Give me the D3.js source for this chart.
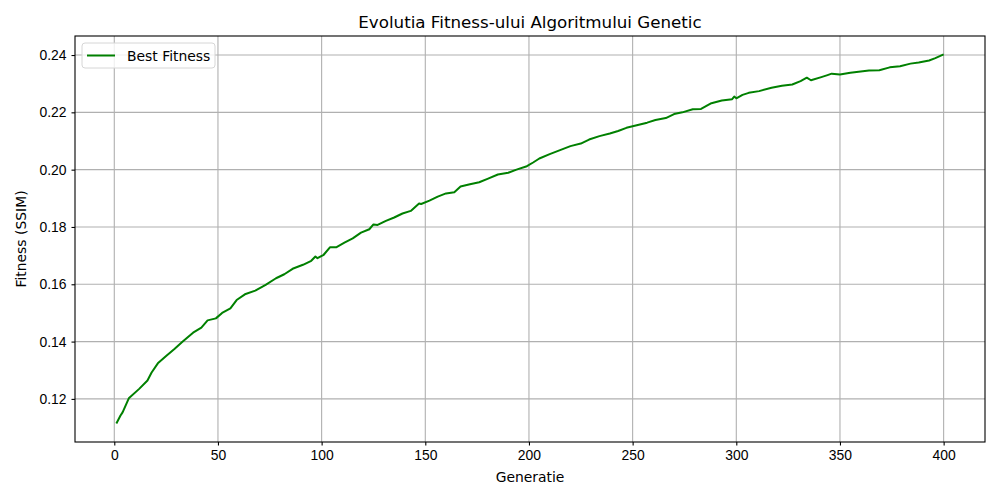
<!DOCTYPE html>
<html>
<head>
<meta charset="utf-8">
<script src="https://cdn.jsdelivr.net/npm/d3@7"></script>
<style>
  body { margin: 0; background: #fff; }
  svg { font-family: "DejaVu Sans", sans-serif; }
  .grid line { stroke: #b0b0b0; stroke-width: 1.1; }
  .axis path, .axis line { stroke: #000; stroke-width: 1.1; }
  .axis text { font-size: 13.9px; fill: #000; }
</style>
</head>
<body>
<svg id="chart" width="1000" height="500"></svg>
<script>
// generations
const generations = [1, 3, 4, 7, 12, 16, 18, 21, 25, 29, 33, 38, 42, 45, 49, 52, 56, 59, 63, 68,
  73, 78, 82, 86, 91, 95, 97, 98, 101, 104, 107, 111, 115, 119, 123, 125, 127, 131, 135, 139,
  143, 147, 148, 152, 156, 160, 164, 167, 171, 176, 180, 185, 190, 194, 199, 202, 205, 210, 215, 220,
  225, 229, 234, 239, 243, 247, 252, 257, 261, 266, 270, 274, 279, 283, 288, 293, 298, 299, 300, 303,
  306, 311, 317, 322, 327, 331, 334, 336, 341, 344, 346, 350, 355, 359, 364, 369, 374, 379, 384, 388,
  393, 396, 400];
// best fitness (SSIM) at each generation
const bestFitness = [0.1114, 0.1142, 0.1153, 0.1202, 0.1235, 0.1264, 0.1292, 0.1324, 0.1350, 0.1374,
  0.1400, 0.1431, 0.1449, 0.1474, 0.1481, 0.1500, 0.1516, 0.1545, 0.1565, 0.1578,
  0.1598, 0.1621, 0.1635, 0.1654, 0.1668, 0.1682, 0.1697, 0.1691, 0.1703, 0.1729,
  0.1729, 0.1745, 0.1760, 0.1780, 0.1792, 0.1809, 0.1807, 0.1821, 0.1833, 0.1847,
  0.1856, 0.1882, 0.1880, 0.1892, 0.1906, 0.1917, 0.1921, 0.1941, 0.1948, 0.1956,
  0.1968, 0.1983, 0.1989, 0.2000, 0.2012, 0.2025, 0.2039, 0.2054, 0.2068, 0.2082,
  0.2091, 0.2105, 0.2117, 0.2126, 0.2135, 0.2146, 0.2155, 0.2164, 0.2173, 0.2180,
  0.2194, 0.2200, 0.2211, 0.2212, 0.2232, 0.2241, 0.2246, 0.2255, 0.2249, 0.2261,
  0.2268, 0.2274, 0.2286, 0.2293, 0.2297, 0.2309, 0.2321, 0.2312, 0.2323, 0.2330,
  0.2335, 0.2332, 0.2338, 0.2342, 0.2346, 0.2347, 0.2357, 0.2361, 0.2370, 0.2374,
  0.2381, 0.2389, 0.2402];
const xTicks = [0, 50, 100, 150, 200, 250, 300, 350, 400];
const yTicks = [0.12, 0.14, 0.16, 0.18, 0.20, 0.22, 0.24];
const seriesName = "Best Fitness";

const svg = d3.select("#chart");
const m = { left: 75, right: 15, top: 36, bottom: 58 };
const W = 1000, H = 500;

const data = generations.map((g, i) => ({ g: g, v: bestFitness[i] }));

// matplotlib-style 5% margins
const gx = d3.extent(generations), gy = d3.extent(bestFitness);
const px = (gx[1] - gx[0]) * 0.05, py = (gy[1] - gy[0]) * 0.05;
const x = d3.scaleLinear().domain([gx[0] - px, gx[1] + px]).range([m.left, W - m.right]);
const y = d3.scaleLinear().domain([gy[0] - py, gy[1] + py]).range([H - m.bottom, m.top]);

// grid
const grid = svg.append("g").attr("class", "grid");
grid.selectAll(".vx").data(xTicks).enter().append("line")
    .attr("x1", d => x(d)).attr("x2", d => x(d))
    .attr("y1", m.top).attr("y2", H - m.bottom);
grid.selectAll(".hy").data(yTicks).enter().append("line")
    .attr("x1", m.left).attr("x2", W - m.right)
    .attr("y1", d => y(d)).attr("y2", d => y(d));

// line
const line = d3.line().x(d => x(d.g)).y(d => y(d.v));
svg.append("path").datum(data)
    .attr("d", line)
    .attr("fill", "none")
    .attr("stroke", "#008000")
    .attr("stroke-width", 2)
    .attr("stroke-linejoin", "round");

// axes
svg.append("g").attr("class", "axis")
    .attr("transform", `translate(0,${H - m.bottom})`)
    .call(d3.axisBottom(x).tickValues(xTicks).tickSize(3.5).tickPadding(5).tickSizeOuter(0))
    .call(g => g.select(".domain").remove());
svg.append("g").attr("class", "axis")
    .attr("transform", `translate(${m.left},0)`)
    .call(d3.axisLeft(y).tickValues(yTicks).tickFormat(d3.format(".2f")).tickSize(3.5).tickPadding(5).tickSizeOuter(0))
    .call(g => g.select(".domain").remove());

// frame
svg.append("rect")
    .attr("x", m.left).attr("y", m.top)
    .attr("width", W - m.left - m.right).attr("height", H - m.top - m.bottom)
    .attr("fill", "none").attr("stroke", "#000").attr("stroke-width", 1.1);

// title and labels
svg.append("text")
    .attr("x", (m.left + W - m.right) / 2).attr("y", 28)
    .attr("text-anchor", "middle")
    .style("font-size", "16.7px")
    .text("Evolutia Fitness-ului Algoritmului Genetic");
svg.append("text")
    .attr("x", (m.left + W - m.right) / 2).attr("y", 482)
    .attr("text-anchor", "middle")
    .style("font-size", "13.9px")
    .text("Generatie");
svg.append("text")
    .attr("transform", `translate(26,${(m.top + H - m.bottom) / 2}) rotate(-90)`)
    .attr("text-anchor", "middle")
    .style("font-size", "13.9px")
    .text("Fitness (SSIM)");

// legend
const lg = svg.append("g").attr("transform", `translate(${m.left + 7},${m.top + 7})`);
lg.append("rect")
    .attr("width", 133).attr("height", 25).attr("rx", 3)
    .attr("fill", "#fff").attr("fill-opacity", 0.8)
    .attr("stroke", "#d6d6d6").attr("stroke-width", 1);
lg.append("line")
    .attr("x1", 5).attr("x2", 33).attr("y1", 12.5).attr("y2", 12.5)
    .attr("stroke", "#008000").attr("stroke-width", 2);
lg.append("text")
    .attr("x", 45).attr("y", 17.5)
    .style("font-size", "13.9px")
    .text(seriesName);
</script>
</body>
</html>
